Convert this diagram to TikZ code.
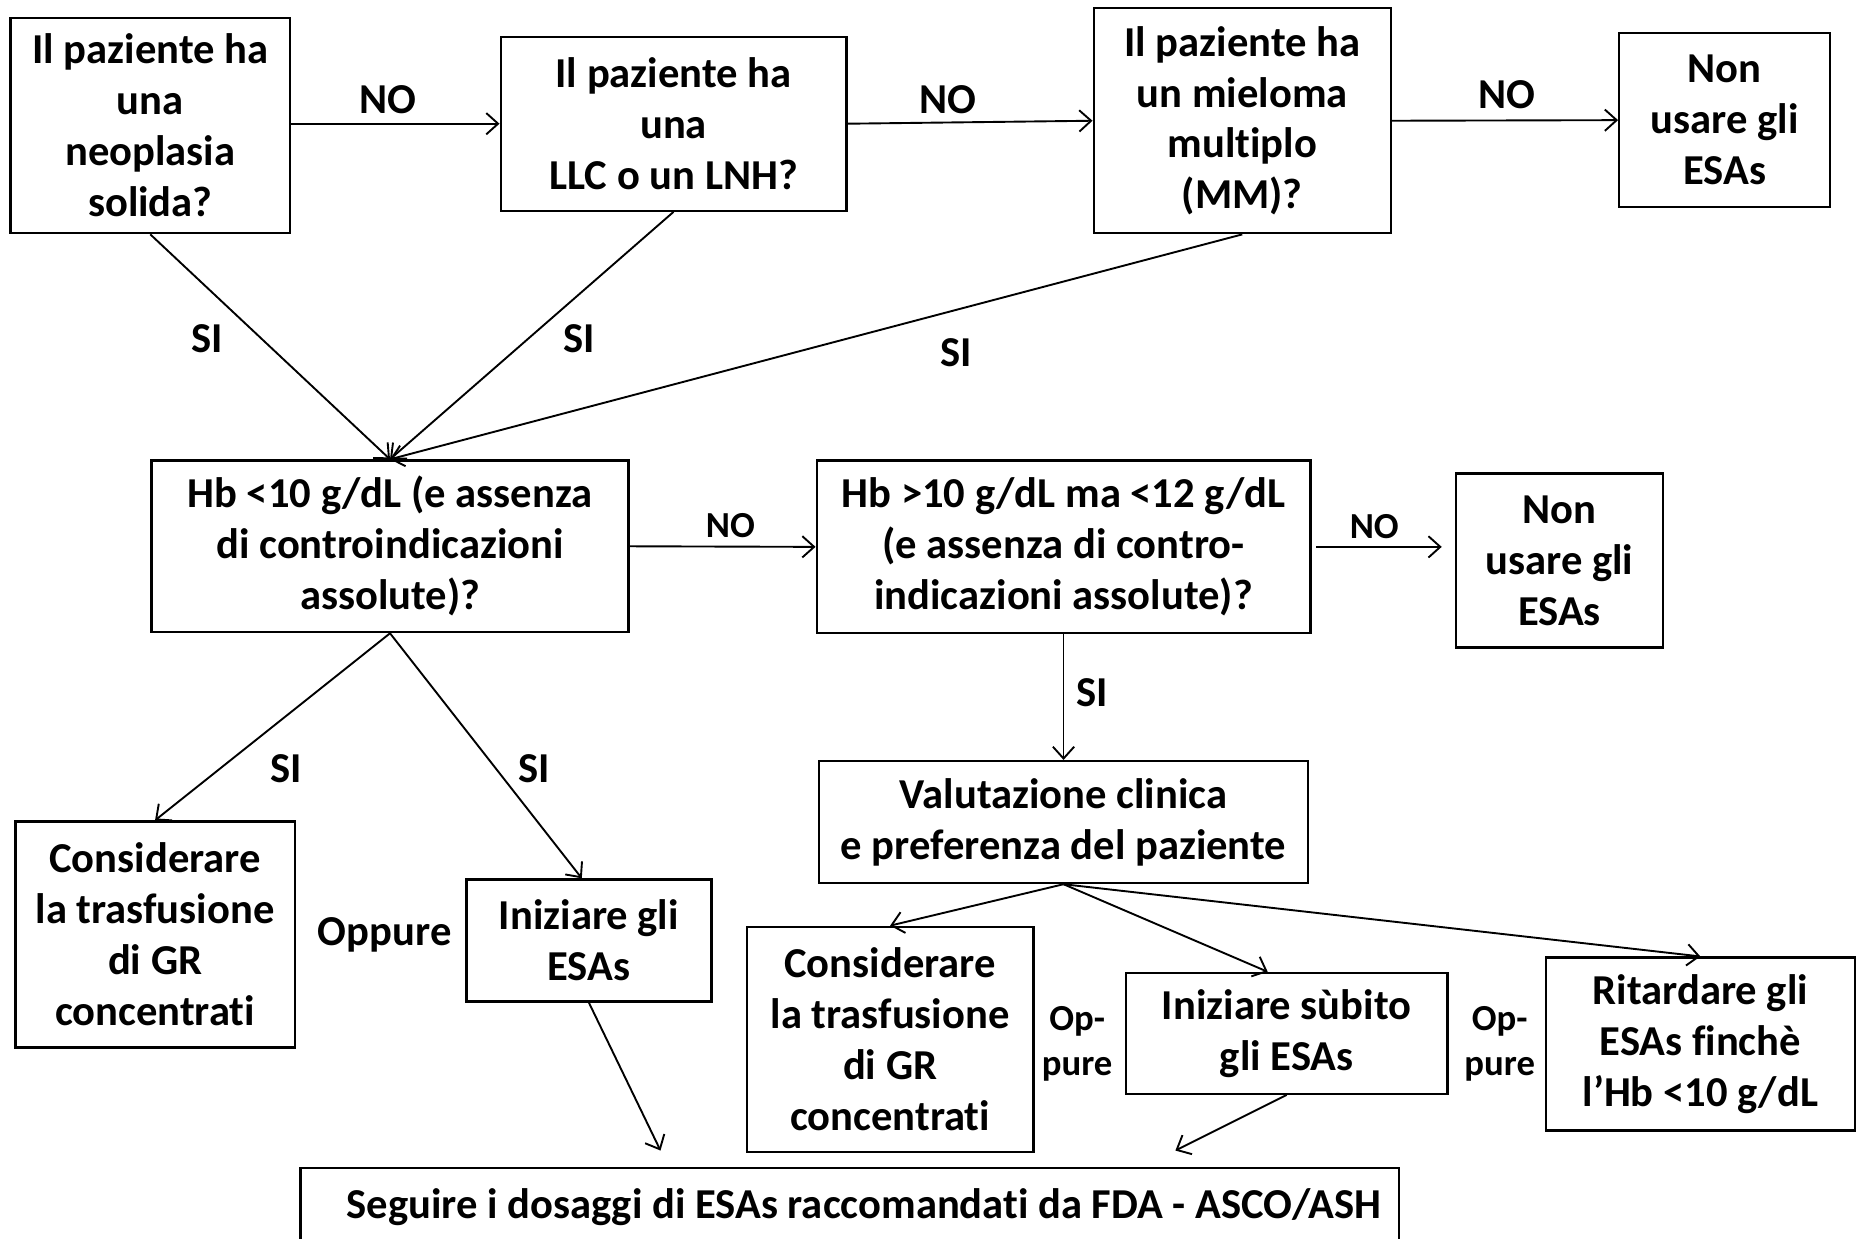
\documentclass[tikz,border=0pt]{standalone}
\usepackage{fontspec}
\setmainfont{Carlito}[Ligatures=NoCommon]
\usetikzlibrary{arrows.meta}
\begin{document}
\begin{tikzpicture}[x=0.5pt,y=-0.5pt,
  box/.style={draw,line width=1pt,align=center,inner sep=0pt,font=\bfseries\fontsize{18}{21.5}\selectfont},
  lab/.style={font=\bfseries\fontsize{18}{21.5}\selectfont,inner sep=0pt},
  slab/.style={font=\bfseries\fontsize{15.5}{19}\selectfont,align=center,inner sep=0pt},
  arr/.style={line width=0.8pt,-{Straight Barb[length=5pt,width=9pt]}}]
\useasboundingbox (0,0) rectangle (1568,1046);
% boxes
\node[box,minimum width=118pt,minimum height=91pt] (A) at (127,106) {Il paziente ha\\una\\neoplasia\\solida?};
\node[box,minimum width=146pt,minimum height=73.5pt] (B) at (569,104.5) {Il paziente ha\\una\\LLC o un LNH?};
\node[box,minimum width=125.5pt,minimum height=95pt] (C) at (1049.5,102) {Il paziente ha\\un mieloma\\multiplo\\(MM)?};
\node[box,minimum width=89pt,minimum height=73.5pt] (D) at (1457,101.5) {Non\\usare gli\\ESAs};
\node[box,minimum width=201.5pt,minimum height=72.5pt] (E) at (329.5,461.5) {Hb <10 g/dL (e assenza\\di controindicazioni\\assolute)?};
\node[box,minimum width=208.5pt,minimum height=73pt] (F) at (898.5,462) {Hb >10 g/dL ma <12 g/dL\\(e assenza di contro-\\indicazioni assolute)?};
\node[box,minimum width=87.5pt,minimum height=73.5pt] (G) at (1317.5,473.5) {Non\\usare gli\\ESAs};
\node[box,minimum width=206.5pt,minimum height=51.5pt] (H) at (898.5,694.5) {Valutazione clinica\\e preferenza del paziente};
\node[box,minimum width=118pt,minimum height=95.5pt] (I) at (131,789.5) {Considerare\\la trasfusione\\di GR\\concentrati};
\node[box,minimum width=103.5pt,minimum height=51.5pt] (J) at (497.5,794.5) {Iniziare gli\\ESAs};
\node[box,minimum width=121pt,minimum height=95pt] (K) at (752,878) {Considerare\\la trasfusione\\di GR\\concentrati};
\node[box,minimum width=136pt,minimum height=51pt] (L) at (1087,873) {Iniziare sùbito\\gli ESAs};
\node[box,minimum width=130.5pt,minimum height=73pt] (M) at (1436.5,882) {Ritardare gli\\ESAs finchè\\l’Hb <10 g/dL};
\node[box,minimum width=464pt,minimum height=33pt] (N) at (718,1020) {\hspace*{12pt}Seguire i dosaggi di ESAs raccomandati da FDA - ASCO/ASH};
% free ends
\coordinate (n1) at (558,972);
\coordinate (n2) at (993,972);
% connectors
\draw[arr] (A.east |- B.west) -- (B.west);
\draw[arr] (B.east) -- (C.west);
\draw[arr] (C.east) -- (D.west);
\draw[arr] (A.south) -- (E.north);
\draw[arr] (B.south) -- (E.north);
\draw[arr] (C.south) -- (E.north);
\draw[arr] (E.east) -- (F.west);
\draw[arr,shorten <=2pt,shorten >=5.5pt] (F.east) -- (F.east -| G.west);
\draw[arr] (E.south) -- (I.north);
\draw[arr] (E.south) -- ([xshift=-3pt]J.north);
\draw[arr] (F.south) -- (H.north);
\draw[arr] (H.south) -- (K.north);
\draw[arr] (H.south) -- ([xshift=-8pt]L.north);
\draw[arr] (H.south) -- (M.north);
\draw[arr] (J.south) -- (n1);
\draw[arr] (L.south) -- (n2);
% labels
\node[lab] (no1) at (328,84) {NO};
\node[lab] (no2) at (801,84) {NO};
\node[lab] (no3) at (1273,80) {NO};
\node[lab] (si1) at (175,286) {SI};
\node[lab] (si2) at (489,286) {SI};
\node[lab] (si3) at (808,298) {SI};
\node[lab] (si4) at (242,649) {SI};
\node[lab] (si5) at (451,649) {SI};
\node[lab] (si6) at (923,585) {SI};
\node[slab] (no4) at (617,444) {NO};
\node[slab] (no5) at (1161,445) {NO};
\node[lab] (opp) at (325,790) {Oppure};
\node[slab] (op1) at (910,882) {Op-\\pure};
\node[slab] (op2) at (1267,882) {Op-\\pure};
\end{tikzpicture}
\end{document}
